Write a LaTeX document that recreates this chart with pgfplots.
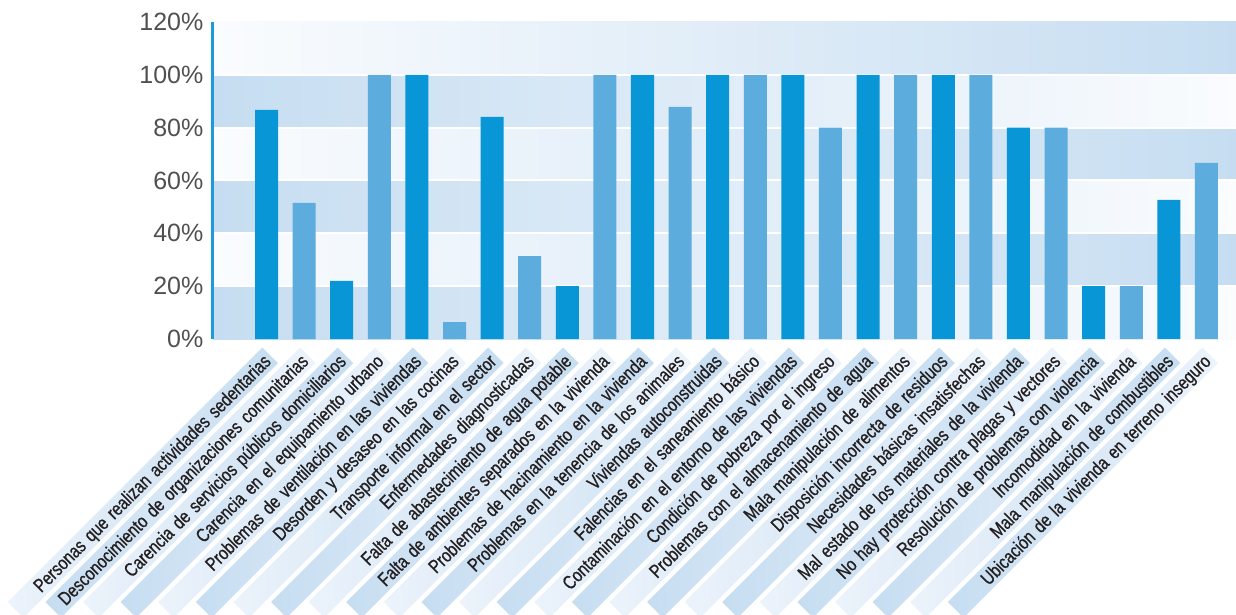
\documentclass[border=0pt]{standalone}
\usepackage{fontspec}
\setmainfont{Liberation Sans}
\newfontfamily\labfont[FakeStretch=0.8, FakeBold=0.7]{Liberation Sans}
\usepackage{pgfplots}
\pgfplotsset{compat=1.18}

\definecolor{barDark}{HTML}{0896D6}
\definecolor{barLight}{HTML}{5CACDE}
\definecolor{bandBlue}{HTML}{C6DDF1}
\definecolor{bandWhite}{HTML}{FAFCFE}
\definecolor{stripeBlue}{HTML}{C6DDF1}
\definecolor{stripeLight}{HTML}{ECF3FB}
\definecolor{axisBlue}{HTML}{1E9AD8}
\definecolor{tickGray}{HTML}{4F5052}
\definecolor{labText}{HTML}{231F20}

\tikzset{stripealt/.code={%
  \ifodd\ticknum\relax
    \tikzset{left color=stripeBlue, right color=stripeLight}%
  \else
    \tikzset{left color=stripeLight, right color=stripeBlue}%
  \fi}}

% values in percent, categories 0..25
\pgfplotstableread{
x y
0 86.7
2 22.0
4 100
6 84.1
8 20
10 100
12 100
14 100
16 100
18 100
20 80
22 20
24 52.7
}\darkdata
\pgfplotstableread{
x y
1 51.5
3 100
5 6.4
7 31.4
9 100
11 87.9
13 100
15 80
17 100
19 100
21 80
23 20
25 66.7
}\lightdata

\begin{document}
\begin{tikzpicture}
\useasboundingbox (-106.5pt,-138pt) rectangle (511.5pt,169.5pt);
\begin{axis}[
  at={(0,0)}, anchor=south west,
  scale only axis, width=511.5pt, height=158.5pt,
  xmin=-1.423, xmax=25.785, ymin=0, ymax=120,
  ybar, bar width=11.5pt, bar shift=0pt,
  axis line style={draw=none},
  tick style={draw=none},
  major tick length=0pt,
  ytick={0,20,...,120},
  yticklabel={\pgfmathprintnumber{\tick}\%},
  /pgf/number format/assume math mode=true,
  yticklabel style={font=\fontsize{12.5}{14}\selectfont, text=tickGray, xshift=-1.3pt},
  xtick={0,...,25},
  xticklabels={
    Personas que realizan actividades sedentarias,
    Desconocimiento de organizaciones comunitarias,
    Carencia de servicios públicos domiciliarios,
    Carencia en el equipamiento urbano,
    Problemas de ventilación en las viviendas,
    Desorden y desaseo en las cocinas,
    Transporte informal en el sector,
    Enfermedades diagnosticadas,
    Falta de abastecimiento de agua potable,
    Falta de ambientes separados en la vivienda,
    Problemas de hacinamiento en la vivienda,
    Problemas en la tenencia de los animales,
    Viviendas autoconstruidas,
    Falencias en el saneamiento básico,
    Contaminación en el entorno de las viviendas,
    Condición de pobreza por el ingreso,
    Problemas con el almacenamiento de agua,
    Mala manipulación de alimentos,
    Disposición incorrecta de residuos,
    Necesidades básicas insatisfechas,
    Mal estado de los materiales de la vivienda,
    No hay protección contra plagas y vectores,
    Resolución de problemas con violencia,
    Incomodidad en la vivienda,
    Mala manipulación de combustibles,
    Ubicación de la vivienda en terreno inseguro},
  xticklabel style={xshift=2pt, yshift=-8pt, rotate=45, anchor=east,
    font=\labfont\fontsize{9.6}{10}\selectfont, text=labText,
    text width=176pt, align=right, inner xsep=2pt, inner ysep=0pt,
    minimum height=11pt, text depth=0.5pt, stripealt},
  clip=false,
]
% background bands
\fill[left color=bandBlue, right color=bandWhite] (axis cs:-1.423,0) rectangle (axis cs:25.785,20);
\fill[left color=bandWhite, right color=bandBlue] (axis cs:-1.423,20) rectangle (axis cs:25.785,40);
\fill[left color=bandBlue, right color=bandWhite] (axis cs:-1.423,40) rectangle (axis cs:25.785,60);
\fill[left color=bandWhite, right color=bandBlue] (axis cs:-1.423,60) rectangle (axis cs:25.785,80);
\fill[left color=bandBlue, right color=bandWhite] (axis cs:-1.423,80) rectangle (axis cs:25.785,100);
\fill[left color=bandWhite, right color=bandBlue] (axis cs:-1.423,100) rectangle (axis cs:25.785,120);
\draw[white, line width=1pt] (axis cs:-1.423,20) -- (axis cs:25.785,20);
\draw[white, line width=1pt] (axis cs:-1.423,40) -- (axis cs:25.785,40);
\draw[white, line width=1pt] (axis cs:-1.423,60) -- (axis cs:25.785,60);
\draw[white, line width=1pt] (axis cs:-1.423,80) -- (axis cs:25.785,80);
\draw[white, line width=1pt] (axis cs:-1.423,100) -- (axis cs:25.785,100);
\addplot[fill=barDark, draw=none] table[x=x, y=y] {\darkdata};
\addplot[fill=barLight, draw=none] table[x=x, y=y] {\lightdata};
\draw[axisBlue, line width=1.5pt] (axis cs:-1.423,0) -- (axis cs:-1.423,120);
\end{axis}
\end{tikzpicture}
\end{document}
